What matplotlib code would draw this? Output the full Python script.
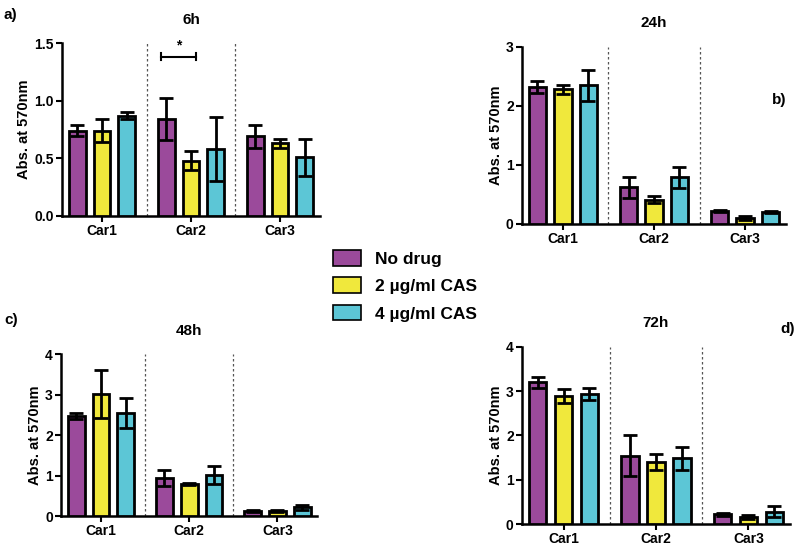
import numpy as np
import matplotlib
matplotlib.use('Agg')
import matplotlib.pyplot as plt
import matplotlib.patches as mpatches

plt.rcParams['font.family'] = ['Liberation Sans', 'DejaVu Sans']
plt.rcParams['font.weight'] = 'bold'

groups = ['Car1', 'Car2', 'Car3']
treatments = ['No drug', '2 \u00b5g/ml CAS', '4 \u00b5g/ml CAS']
colors = ['#9b4a9b', '#f0e83c', '#5cc6d6']

# values per time point: rows = groups, cols = treatments
mean_6h = [[0.74, 0.74, 0.87], [0.84, 0.48, 0.58], [0.69, 0.63, 0.51]]
err_6h = [[0.05, 0.10, 0.03], [0.18, 0.08, 0.28], [0.10, 0.04, 0.16]]
mean_24h = [[2.32, 2.28, 2.35], [0.62, 0.41, 0.79], [0.22, 0.10, 0.20]]
err_24h = [[0.10, 0.08, 0.26], [0.18, 0.06, 0.18], [0.02, 0.03, 0.02]]
mean_48h = [[2.48, 3.02, 2.54], [0.94, 0.80, 1.02], [0.12, 0.13, 0.22]]
err_48h = [[0.07, 0.60, 0.37], [0.19, 0.02, 0.22], [0.03, 0.03, 0.06]]
mean_72h = [[3.20, 2.89, 2.93], [1.54, 1.41, 1.49], [0.22, 0.16, 0.28]]
err_72h = [[0.13, 0.15, 0.14], [0.46, 0.18, 0.26], [0.03, 0.04, 0.13]]

panels = [
    ('6h', mean_6h, err_6h, 1.5, [0.0, 0.5, 1.0, 1.5], '%.1f', [0.0775, 0.604, 0.3225, 0.317]),
    ('24h', mean_24h, err_24h, 3, [0, 1, 2, 3], '%d', [0.6525, 0.589, 0.33, 0.325]),
    ('48h', mean_48h, err_48h, 4, [0, 1, 2, 3, 4], '%d', [0.0765, 0.053, 0.32, 0.297]),
    ('72h', mean_72h, err_72h, 4, [0, 1, 2, 3, 4], '%d', [0.6525, 0.0385, 0.335, 0.325]),
]

fig = plt.figure(figsize=(8, 5.45), dpi=100)
x = np.arange(len(groups))
w = 0.19
off = 0.28
axes = []
for title, m, e, ymax, yt, fmt, rect in panels:
    ax = fig.add_axes(rect)
    m = np.array(m)
    e = np.array(e)
    for j in range(3):
        ax.bar(x + (j - 1) * off, m[:, j], width=w, color=colors[j],
               edgecolor='black', linewidth=2, zorder=3)
        ax.errorbar(x + (j - 1) * off, m[:, j], yerr=e[:, j], fmt='none',
                    ecolor='black', elinewidth=2, capsize=5, capthick=2, zorder=4)
    for s in [0.5, 1.5]:
        ax.axvline(s, color='#555555', linestyle=(0, (2, 2)), linewidth=0.9, zorder=1)
    ax.set_xlim(-0.45, 2.45)
    ax.set_ylim(0, ymax)
    ax.set_yticks(yt)
    ax.set_yticklabels([fmt % v for v in yt], fontsize=10, fontweight='bold')
    ax.set_xticks(x)
    ax.set_xticklabels(groups, fontsize=10, fontweight='bold')
    ax.spines['top'].set_visible(False)
    ax.spines['right'].set_visible(False)
    ax.spines['left'].set_linewidth(1.8)
    ax.spines['bottom'].set_linewidth(1.8)
    ax.tick_params(axis='both', width=1.5, length=4, pad=2)
    ax.set_ylabel('Abs. at 570nm', fontsize=10.5, fontweight='bold', labelpad=2)
    ax.set_title(title, fontsize=11, fontweight='bold', pad=14)
    axes.append(ax)

# significance bracket in 6h panel (Car2: No drug vs 2 ug/ml)
ax = axes[0]
x1 = x[1] - off - 0.06
x2 = x[1] + 0.06
ax.plot([x1, x2], [1.38, 1.38], color='black', linewidth=1.5, clip_on=False)
ax.plot([x1, x1], [1.35, 1.41], color='black', linewidth=1.5, clip_on=False)
ax.plot([x2, x2], [1.35, 1.41], color='black', linewidth=1.5, clip_on=False)
ax.text((x1 + x2) / 2, 1.42, '*', ha='center', va='bottom', fontsize=10, fontweight='bold')

# panel letters
fig.text(0.005, 0.985, 'a)', fontsize=11, fontweight='bold', va='top')
fig.text(0.965, 0.83, 'b)', fontsize=11, fontweight='bold', va='top')
fig.text(0.005, 0.425, 'c)', fontsize=11, fontweight='bold', va='top')
fig.text(0.975, 0.41, 'd)', fontsize=11, fontweight='bold', va='top')

handles = [mpatches.Patch(facecolor=c, edgecolor='black', linewidth=1.2, label=t)
           for c, t in zip(colors, treatments)]
fig.legend(handles=handles, loc='upper left', bbox_to_anchor=(0.397, 0.57),
           frameon=False, prop={'size': 12.5, 'weight': 'bold'},
           handlelength=1.6, handleheight=1.0, labelspacing=0.62, handletextpad=0.8)

fig.savefig('out.png', dpi=100)
